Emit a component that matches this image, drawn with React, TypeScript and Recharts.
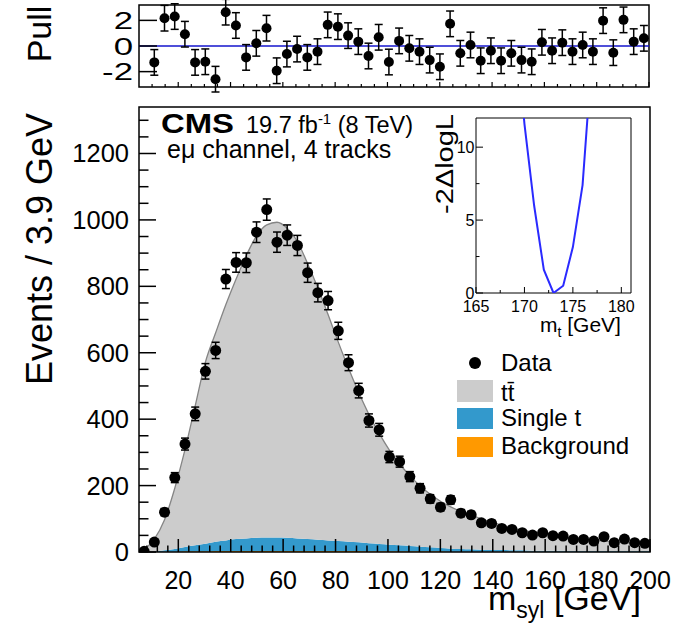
import React from 'react';
import {
  ComposedChart, LineChart, Line, Area, Scatter, ErrorBar,
  XAxis, YAxis, ReferenceArea, ReferenceLine,
} from 'recharts';

const FONT = '"Liberation Sans", Arial, Helvetica, sans-serif';

// centres of the 3.9 GeV bins from 5 to 200 GeV
const binCenters = [
  6.95, 10.85, 14.75, 18.65, 22.55, 26.45, 30.35, 34.25, 38.15, 42.05,
  45.95, 49.85, 53.75, 57.65, 61.55, 65.45, 69.35, 73.25, 77.15, 81.05,
  84.95, 88.85, 92.75, 96.65, 100.55, 104.45, 108.35, 112.25, 116.15, 120.05,
  123.95, 127.85, 131.75, 135.65, 139.55, 143.45, 147.35, 151.25, 155.15, 159.05,
  162.95, 166.85, 170.75, 174.65, 178.55, 182.45, 186.35, 190.25, 194.15, 198.05,
];

const dataCounts = [
  2, 30, 120, 224, 325, 416, 544, 607, 822, 872,
  871, 963, 1031, 933, 954, 923, 841, 781, 757, 666,
  570, 486, 396, 368, 286, 272, 227, 192, 160, 135,
  157, 117, 112, 88, 86, 71, 68, 58, 51, 58,
  49, 48, 38, 38, 33, 46, 28, 39, 28, 26,
];

const dataErrors = [
  1.4, 5.5, 11, 15, 18, 20.4, 23.3, 24.6, 28.7, 29.5,
  29.5, 31, 32.1, 30.5, 30.9, 30.4, 29, 27.9, 27.5, 25.8,
  23.9, 22, 19.9, 19.2, 16.9, 16.5, 15.1, 13.9, 12.6, 11.6,
  12.5, 10.8, 10.6, 9.4, 9.3, 8.4, 8.2, 7.6, 7.1, 7.6,
  7, 6.9, 6.2, 6.2, 5.7, 6.8, 5.3, 6.2, 5.3, 5.1,
];

const ttbarYield = [
  8, 38, 92, 183, 293, 420, 547, 629, 710, 783,
  852, 909, 941, 949, 932, 894, 829, 758, 680, 599,
  522, 451, 388, 333, 285, 245, 212, 183, 160, 141,
  126, 113, 103, 93, 84, 75, 68, 61, 56, 51,
  47, 42, 39, 36, 33, 30, 28, 25, 23, 21,
];

const singleTopYield = [
  0, 1, 4, 8, 13, 18, 23, 28, 32, 36,
  38, 40, 41, 41, 40, 38, 36, 34, 32, 30,
  28, 26, 24, 22, 20, 18, 16, 14, 12, 10,
  9, 8, 7, 6, 5, 5, 4, 4, 3, 3,
  3, 3, 2, 2, 2, 2, 2, 2, 2, 2,
];

const backgroundYield = [
  0, 0, 1, 1, 2, 2, 2, 3, 3, 3,
  3, 3, 3, 3, 3, 3, 3, 3, 3, 3,
  3, 3, 2, 2, 2, 2, 2, 2, 2, 2,
  1, 1, 1, 1, 1, 1, 1, 1, 1, 1,
  1, 1, 1, 1, 1, 1, 1, 1, 1, 1,
];

const pulls = [
  null, -1.28, 2.17, 2.3, 0.92, -1.28, -1.23, -2.59, 2.64, 1.6,
  -0.89, 0.21, 1.39, -1.93, -0.63, -0.24, -0.89, -0.44, 1.65, 1.51,
  0.81, 0.34, -0.78, 0.68, -1.25, 0.4, -0.18, -0.44, -1.1, -1.62,
  1.73, -0.57, 0.08, -1.15, -0.37, -1.15, -0.57, -1.1, -1.23, 0.29,
  -0.37, 0.26, -0.44, 0.08, -0.44, 1.98, -0.52, 2.04, 0.34, 0.6,
];

// simulation curve end points at the frame edges
const edgeMass = [5, 200];
const edgeTtbar = [0, 20];
const edgeSingleTop = [0, 2];
const edgeBackground = [0, 1];

// likelihood scan in the inset
const scanMass = [169, 170, 171, 172, 173, 174, 175, 176, 177];
const scanNll = [19, 11.6, 6, 1.6, 0, 0.5, 3.15, 7.4, 16.5];

const mainXTicks = [
  8, 12, 16, 20, 24, 28, 32, 36, 40, 44, 48, 52, 56, 60, 64, 68, 72, 76, 80, 84,
  88, 92, 96, 100, 104, 108, 112, 116, 120, 124, 128, 132, 136, 140, 144, 148,
  152, 156, 160, 164, 168, 172, 176, 180, 184, 188, 192, 196, 200,
];
const mainYTicks = [
  0, 50, 100, 150, 200, 250, 300, 350, 400, 450, 500, 550, 600, 650,
  700, 750, 800, 850, 900, 950, 1000, 1050, 1100, 1150, 1200, 1250, 1300,
];
const pullXTicks = [
  10, 15, 20, 25, 30, 35, 40, 45, 50, 55, 60, 65, 70, 75, 80, 85, 90, 95, 100,
  105, 110, 115, 120, 125, 130, 135, 140, 145, 150, 155, 160, 165, 170, 175,
  180, 185, 190, 195, 200,
];
const pullYTicks = [-2, 0, 2];
const insetXTicks = [165, 167.5, 170, 172.5, 175, 177.5, 180];
const insetYTicks = [0, 2.5, 5, 7.5, 10];

const mcRows = [
  { m: edgeMass[0], tt: edgeTtbar[0], st: edgeSingleTop[0], bg: edgeBackground[0] },
  ...binCenters.map((m, i) => ({ m, tt: ttbarYield[i], st: singleTopYield[i], bg: backgroundYield[i] })),
  { m: edgeMass[1], tt: edgeTtbar[1], st: edgeSingleTop[1], bg: edgeBackground[1] },
];
const dataRows = binCenters.map((m, i) => ({ m, n: dataCounts[i], err: dataErrors[i] }));
const pullRows = binCenters
  .map((m, i) => ({ m, p: pulls[i], e: 1 }))
  .filter((r) => r.p !== null);
const scanRows = scanMass.map((m, i) => ({ m, v: scanNll[i] }));

const dot = (r: number) => (props: any) => (
  <circle cx={props.cx} cy={props.cy} r={r} fill="#000" />
);

// ROOT style ticks: drawn inwards from the axis line
const mainXTick = (props: any) => {
  const { x, y, payload } = props;
  const major = payload.value % 20 === 0;
  return (
    <g>
      <line x1={x} y1={y} x2={x} y2={y - (major ? 13 : 6.5)} stroke="#000" strokeWidth={1.5} />
      {major && (
        <text x={x} y={y + 37} textAnchor="middle" fontSize={25} fontFamily={FONT} fill="#000">
          {payload.value}
        </text>
      )}
    </g>
  );
};

const mainYTick = (props: any) => {
  const { x, y, payload } = props;
  const major = payload.value % 200 === 0;
  return (
    <g>
      <line x1={x} y1={y} x2={x + (major ? 17 : 9.5)} y2={y} stroke="#000" strokeWidth={1.5} />
      {major && (
        <text x={x - 10} y={y + 9} textAnchor="end" fontSize={25.5} fontFamily={FONT} fill="#000">
          {payload.value}
        </text>
      )}
    </g>
  );
};

const pullXTick = (props: any) => {
  const { x, y, payload } = props;
  const major = payload.value % 20 === 0;
  return <line x1={x} y1={y} x2={x} y2={y - (major ? 5 : 3)} stroke="#000" strokeWidth={1.2} />;
};

const pullYTick = (props: any) => {
  const { x, y, payload } = props;
  return (
    <g>
      <line x1={x} y1={y} x2={x + 18} y2={y} stroke="#000" strokeWidth={1.5} />
      <g transform={`translate(${x - 6},${y + 8.5}) scale(1.45,1)`}>
        <text textAnchor="end" fontSize={24} fontFamily={FONT} fill="#000">{payload.value}</text>
      </g>
    </g>
  );
};

const insetXTick = (props: any) => {
  const { x, y, payload } = props;
  const major = payload.value % 5 === 0;
  return (
    <g>
      <line x1={x} y1={y} x2={x} y2={y - (major ? 6 : 3)} stroke="#000" strokeWidth={1} />
      {major && (
        <text x={x} y={y + 19} textAnchor="middle" fontSize={16} fontFamily={FONT} fill="#000">
          {payload.value}
        </text>
      )}
    </g>
  );
};

const insetYTick = (props: any) => {
  const { x, y, payload } = props;
  const major = payload.value % 5 === 0;
  return (
    <g>
      <line x1={x} y1={y} x2={x + (major ? 7 : 3.5)} y2={y} stroke="#000" strokeWidth={1} />
      {major && (
        <text x={x - 1.5} y={y + 6} textAnchor="end" fontSize={16} fontFamily={FONT} fill="#000">
          {payload.value}
        </text>
      )}
    </g>
  );
};

const GRAY = '#cccccc';
const BLUE = '#3399cc';
const ORANGE = '#ff9900';

export default function App() {
  return (
    <div style={{ position: 'absolute', left: 0, top: 0, width: 679, height: 624, background: '#fff', fontFamily: FONT }}>
      {/* pull panel */}
      <div style={{ position: 'absolute', left: 0, top: 0 }}>
        <ComposedChart width={679} height={95} margin={{ top: 5, right: 30, bottom: 0, left: 0 }}>
          <XAxis type="number" dataKey="m" domain={[5, 200]} ticks={pullXTicks} interval={0}
            tickSize={0} tickMargin={0} tick={pullXTick} axisLine={false} height={8} allowDataOverflow />
          <YAxis type="number" domain={[-3.2, 3.2]} ticks={pullYTicks} interval={0}
            tickSize={0} tickMargin={0} tick={pullYTick} axisLine={false} width={139} allowDataOverflow />
          <ReferenceLine y={0} stroke="#1414cc" strokeWidth={1.5} />
          <Scatter data={pullRows} dataKey="p" shape={dot(5)} isAnimationActive={false}>
            <ErrorBar dataKey="e" direction="y" width={4} stroke="#000" strokeWidth={1.5} />
          </Scatter>
          <ReferenceArea x1={5} x2={200} y1={-3.2} y2={3.2} fill="none" stroke="#000" strokeWidth={1.5} />
        </ComposedChart>
      </div>

      {/* main panel */}
      <div style={{ position: 'absolute', left: 0, top: 0 }}>
        <ComposedChart width={679} height={624} data={mcRows} margin={{ top: 107, right: 29, bottom: 0, left: 0 }}>
          <XAxis type="number" dataKey="m" domain={[5, 200]} ticks={mainXTicks} interval={0}
            tickSize={0} tickMargin={0} tick={mainXTick} axisLine={false} height={72} allowDataOverflow />
          <YAxis type="number" domain={[0, 1340]} ticks={mainYTicks} interval={0}
            tickSize={0} tickMargin={0} tick={mainYTick} axisLine={false} width={139} allowDataOverflow />
          <Area dataKey="bg" stackId="mc" type="monotone" fill={ORANGE} fillOpacity={1} stroke="none"
            dot={false} activeDot={false} isAnimationActive={false} />
          <Area dataKey="st" stackId="mc" type="monotone" fill={BLUE} fillOpacity={1} stroke="none"
            dot={false} activeDot={false} isAnimationActive={false} />
          <Area dataKey="tt" stackId="mc" type="monotone" fill={GRAY} fillOpacity={1} stroke="#858585"
            strokeWidth={1.3} dot={false} activeDot={false} isAnimationActive={false} />
          <Scatter data={dataRows} dataKey="n" shape={dot(5.5)} isAnimationActive={false}>
            <ErrorBar dataKey="err" direction="y" width={4} stroke="#000" strokeWidth={1.5} />
          </Scatter>
          <ReferenceArea x1={5} x2={200} y1={0} y2={1340} fill="none" stroke="#000" strokeWidth={1.5} />
        </ComposedChart>
      </div>

      {/* likelihood scan inset */}
      <div style={{ position: 'absolute', left: 440, top: 107 }}>
        <LineChart width={210} height={235} data={scanRows} margin={{ top: 11, right: 19, bottom: 0, left: 0 }}>
          <XAxis type="number" dataKey="m" domain={[165, 181]} ticks={insetXTicks} interval={0}
            tickSize={0} tickMargin={0} tick={insetXTick} axisLine={false} height={49} allowDataOverflow />
          <YAxis type="number" domain={[0, 12]} ticks={insetYTicks} interval={0}
            tickSize={0} tickMargin={0} tick={insetYTick} axisLine={false} width={36} allowDataOverflow />
          <Line dataKey="v" type="linear" stroke="#2a2aff" strokeWidth={2} dot={false} activeDot={false}
            isAnimationActive={false} />
          <ReferenceArea x1={165} x2={181} y1={0} y2={12} fill="none" stroke="#000" strokeWidth={1} />
        </LineChart>
      </div>

      {/* titles, labels and legend */}
      <svg width={679} height={624} style={{ position: 'absolute', left: 0, top: 0, pointerEvents: 'none' }}
        fontFamily={FONT} fill="#000">
        <text transform="translate(51,34) rotate(-90)" textAnchor="middle" fontSize={34}>Pull</text>
        <text transform="translate(51.5,249) rotate(-90)" textAnchor="middle" fontSize={36}>Events / 3.9 GeV</text>
        <text x={488} y={610} fontSize={34}>
          m<tspan fontSize={23} dy={8}>syl</tspan><tspan dy={-8}> [GeV]</tspan>
        </text>

        <text x={161} y={133} fontSize={27} fontWeight="bold" textLength={73} lengthAdjust="spacingAndGlyphs">CMS</text>
        <text x={246} y={133} fontSize={23.5}>
          19.7 fb<tspan fontSize={15} dy={-9}>-1</tspan><tspan dy={9}> (8 TeV)</tspan>
        </text>
        <text x={167} y={158} fontSize={25}>eμ channel, 4 tracks</text>

        <text transform="translate(453,164) rotate(-90)" textAnchor="middle" fontSize={23}
          textLength={100} lengthAdjust="spacingAndGlyphs">-2ΔlogL</text>
        <text x={540} y={332} fontSize={21}>
          m<tspan fontSize={14} dy={5}>t</tspan><tspan dy={-5}> [GeV]</tspan>
        </text>

        <circle cx={475} cy={363} r={6} fill="#000" />
        <text x={501} y={371} fontSize={24}>Data</text>
        <rect x={457} y={380} width={36} height={22} fill={GRAY} />
        <text x={501} y={401} fontSize={24}>tt̄</text>
        <rect x={457} y={408} width={36} height={21} fill={BLUE} />
        <text x={501} y={426} fontSize={24}>Single t</text>
        <rect x={457} y={437} width={36} height={20} fill={ORANGE} />
        <text x={501} y={454} fontSize={24}>Background</text>
      </svg>
    </div>
  );
}
